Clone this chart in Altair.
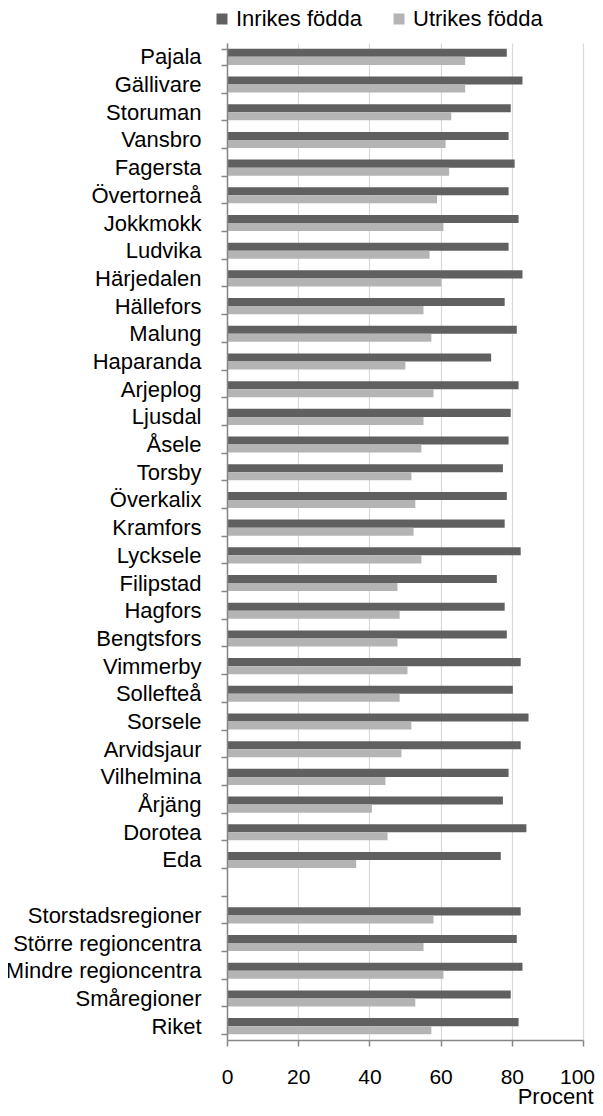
import altair as alt
import pandas as pd

categories = [
    "Pajala", "Gällivare", "Storuman", "Vansbro", "Fagersta", "Övertorneå",
    "Jokkmokk", "Ludvika", "Härjedalen", "Hällefors", "Malung", "Haparanda",
    "Arjeplog", "Ljusdal", "Åsele", "Torsby", "Överkalix", "Kramfors",
    "Lycksele", "Filipstad", "Hagfors", "Bengtsfors", "Vimmerby", "Sollefteå",
    "Sorsele", "Arvidsjaur", "Vilhelmina", "Årjäng", "Dorotea", "Eda",
    " ",
    "Storstadsregioner", "Större regioncentra", "Mindre regioncentra",
    "Småregioner", "Riket",
]
inrikes = [
    78.6, 83.0, 79.7, 79.1, 80.8, 79.1,
    81.9, 79.1, 83.0, 78.0, 81.4, 74.2,
    81.9, 79.7, 79.1, 77.5, 78.6, 78.0,
    82.5, 75.8, 78.0, 78.6, 82.5, 80.3,
    84.7, 82.5, 79.1, 77.5, 84.1, 76.9,
    None,
    82.5, 81.4, 83.0, 79.7, 81.9,
]
utrikes = [
    66.9, 66.9, 63.0, 61.4, 62.4, 59.0,
    60.8, 56.9, 60.2, 55.2, 57.4, 50.1,
    58.0, 55.2, 54.6, 51.8, 52.9, 52.4,
    54.6, 47.9, 48.5, 47.9, 50.7, 48.5,
    51.8, 49.0, 44.5, 40.7, 45.1, 36.3,
    None,
    58.0, 55.2, 60.8, 52.9, 57.4,
]
series = ["Inrikes födda", "Utrikes födda"]
colors = ["#606060", "#b4b4b4"]
x_ticks = [0, 20, 40, 60, 80, 100]

rows = []
for c, a, b in zip(categories, inrikes, utrikes):
    if a is None:
        continue
    rows.append({"Område": c, "Serie": series[0], "Procent": a})
    rows.append({"Område": c, "Serie": series[1], "Procent": b})
df = pd.DataFrame(rows)

FONT = "Liberation Sans"
AX = "#868686"
W, H = 356, 997
P_IN = 0.42
P_OUT = P_IN / 2

chart = alt.Chart(df).mark_bar().encode(
    y=alt.Y(
        "Område:N",
        sort=None,
        scale=alt.Scale(domain=categories, paddingInner=P_IN, paddingOuter=P_OUT),
        axis=alt.Axis(
            title=None, labelFontSize=22, labelFont=FONT,
            labelColor="black", labelPadding=20, labelLimit=400,
            tickBand="extent", tickSize=6, tickColor=AX, tickWidth=1.5,
            domainColor=AX, domainWidth=1.5, grid=False, zindex=1,
        ),
    ),
    yOffset=alt.YOffset(
        "Serie:N",
        scale=alt.Scale(domain=series, paddingInner=0, paddingOuter=0),
    ),
    x=alt.X(
        "Procent:Q",
        scale=alt.Scale(domain=[0, 100], nice=False),
        axis=alt.Axis(
            values=x_ticks, title="Procent", labelFontSize=21, labelFont=FONT,
            labelColor="black", labelPadding=20, labelFlush=False,
            labelOffset={"condition": {"test": "datum.value == 100", "value": -6}, "value": 0},
            tickSize=6, tickColor=AX, domainColor=AX, domainWidth=1.5,
            tickWidth=1.5, grid=True, gridColor="#d9d9d9", gridWidth=1.2,
            titleFont=FONT, titleFontSize=22, titleFontWeight="normal",
            titleColor="black", titleAlign="right", titleAnchor="end",
            titleBaseline="alphabetic", titleX=366, titleY=63,
        ),
    ),
    color=alt.Color(
        "Serie:N",
        scale=alt.Scale(domain=series, range=colors),
        legend=alt.Legend(
            title=None, orient="none", direction="horizontal",
            legendX=-16, legendY=-35, symbolType="square", symbolSize=121,
            symbolStrokeWidth=0, labelFontSize=22, labelFont=FONT,
            labelColor="black", labelOffset=3, columnPadding=26, padding=0,
        ),
    ),
).properties(
    width=W,
    height=H,
    autosize=alt.AutoSizeParams(type="none"),
    padding={"left": 219, "top": 35, "right": 12, "bottom": 68},
).configure_view(stroke=None)

chart.save("out.html", embed_options={"renderer": "svg", "actions": False})
